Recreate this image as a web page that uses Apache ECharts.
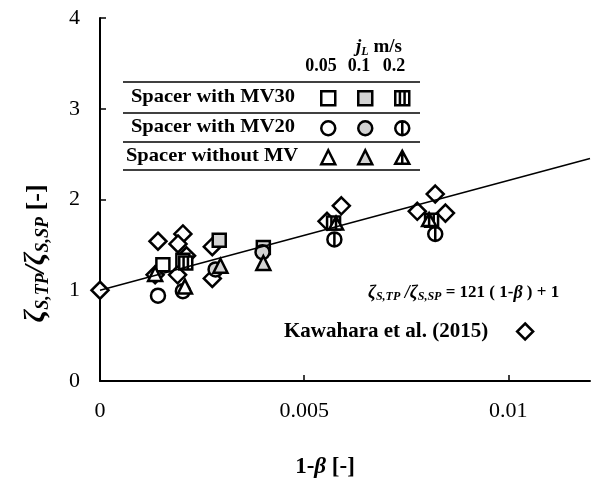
<!DOCTYPE html>
<html>
<head>
<meta charset="utf-8">
<script src="https://cdn.jsdelivr.net/npm/echarts@6/dist/echarts.min.js"></script>
<style>
  html, body { margin: 0; padding: 0; background: #fff; }
  #chart { width: 592px; height: 481px; }
</style>
</head>
<body>
<div id="chart"></div>
<script>
// x = 1-beta, y = zeta_S,TP / zeta_S,SP
const kawahara = [
  [0, 1.0], [0.00142, 1.54], [0.00203, 1.62], [0.00191, 1.51], [0.00275, 1.48],
  [0.00135, 1.17], [0.0019, 1.17], [0.00212, 1.38], [0.00275, 1.13],
  [0.00591, 1.93], [0.00556, 1.76], [0.00821, 2.06], [0.00777, 1.87], [0.00846, 1.85]
];
const mv30_005 = [[0.00154, 1.28], [0.00203, 1.33]];
const mv30_01 = [[0.00292, 1.55], [0.004, 1.47]];
const mv30_02 = [[0.0021, 1.3], [0.00572, 1.74], [0.00812, 1.77]];
const mv20_005 = [[0.00142, 0.94], [0.00203, 0.99]];
const mv20_01 = [[0.00283, 1.23], [0.00398, 1.42]];
const mv20_02 = [[0.00574, 1.56], [0.00821, 1.62]];
const nomv_005 = [[0.00135, 1.18], [0.00208, 1.04]];
const nomv_01 = [[0.00295, 1.27], [0.004, 1.3]];
const nomv_02 = [[0.00578, 1.74], [0.00806, 1.78]];
// fitted correlation: y = 121 (1-beta) + 1
const fitLine = [[0, 1], [0.012, 2.452]];

const xTicks = [0, 0.005, 0.01];
const velocities = ['0.05', '0.1', '0.2'];

const SERIF = 'Liberation Serif';
const GRAY = '#d3d3d3';

const sqBars = 'path://M0 0H12V12H0Z M4 0V12 M8 0V12';
const circBar = 'path://M6 0A6 6 0 1 1 6 12A6 6 0 1 1 6 0Z M6 0V12';
const triBar = 'path://M6 0L12 11L0 11Z M6 0V11';

function sc(name, data, symbol, size, fill) {
  return {
    name: name,
    type: 'scatter',
    data: data,
    symbol: symbol,
    symbolSize: size,
    symbolKeepAspect: true,
    itemStyle: { color: fill, borderColor: '#000', borderWidth: 2.5, opacity: 1 },
    z: 3
  };
}

const chart = echarts.init(document.getElementById('chart'));

function rowLegend(names, y) {
  return {
    data: names,
    top: y - 7,
    left: 320,
    orient: 'horizontal',
    itemWidth: 14,
    itemHeight: 14,
    itemGap: 20.5,
    padding: 0,
    selectedMode: false,
    formatter: function () { return ''; },
    itemStyle: { borderWidth: 2.5 }
  };
}

const rowFont = 'bold 19px "Liberation Serif"';

const option = {
  animation: false,
  grid: { left: 100, right: 2, top: 18, bottom: 100, outerBoundsMode: 'none', containLabel: false },
  xAxis: {
    type: 'value',
    min: 0, max: 0.012, interval: 0.005,
    axisLine: { lineStyle: { color: '#000', width: 2 } },
    axisTick: { inside: true, length: 6, lineStyle: { color: '#000', width: 1.5 }, customValues: xTicks },
    axisLabel: { fontFamily: SERIF, fontSize: 22, color: '#000', margin: 19, customValues: xTicks },
    splitLine: { show: false },
    name: '{b|1-}{bi|β}{b| [-]}',
    nameLocation: 'middle',
    nameGap: 75,
    nameTextStyle: {
      padding: [0, 40, 0, 0],
      rich: {
        b: { fontFamily: SERIF, fontSize: 23, fontWeight: 'bold', color: '#000' },
        bi: { fontFamily: SERIF, fontSize: 23, fontWeight: 'bold', fontStyle: 'italic', color: '#000' }
      }
    }
  },
  yAxis: {
    type: 'value',
    min: 0, max: 4, interval: 1,
    axisLine: { lineStyle: { color: '#000', width: 2 } },
    axisTick: { inside: true, length: 6, lineStyle: { color: '#000', width: 1.5 } },
    axisLabel: { fontFamily: SERIF, fontSize: 22, color: '#000', margin: 20 },
    splitLine: { show: false },
    name: '{z|ζ}{s|S,TP}{z|/ζ}{s|S,SP}{b| [-]}',
    nameLocation: 'middle',
    nameGap: 48,
    nameTextStyle: {
      padding: [0, 108, 0, 0],
      rich: {
        z: { fontFamily: SERIF, fontSize: 29, fontWeight: 'bold', fontStyle: 'italic', color: '#000', lineHeight: 30 },
        s: { fontFamily: SERIF, fontSize: 18, fontWeight: 'bold', fontStyle: 'italic', color: '#000', padding: [13, 0, 0, 0], lineHeight: 30 },
        b: { fontFamily: SERIF, fontSize: 26, fontWeight: 'bold', color: '#000', lineHeight: 30 }
      }
    }
  },
  legend: [
    rowLegend(['MV30 0.05', 'MV30 0.1', 'MV30 0.2'], 97),
    rowLegend(['MV20 0.05', 'MV20 0.1', 'MV20 0.2'], 127),
    rowLegend(['noMV 0.05', 'noMV 0.1', 'noMV 0.2'], 156),
    {
      data: ['Kawahara et al. (2015)'],
      top: 321,
      left: 284,
      align: 'right',
      itemWidth: 16,
      itemHeight: 16,
      padding: 0,
      selectedMode: false,
      itemStyle: { borderWidth: 2.5 },
      textStyle: { fontFamily: SERIF, fontSize: 21, fontWeight: 'bold', color: '#000', padding: [0, 24, 0, 0] }
    }
  ],
  graphic: [
    { type: 'line', shape: { x1: 123, y1: 82, x2: 420, y2: 82 }, style: { stroke: '#000', lineWidth: 1.5 } },
    { type: 'line', shape: { x1: 123, y1: 113, x2: 420, y2: 113 }, style: { stroke: '#000', lineWidth: 1.5 } },
    { type: 'line', shape: { x1: 123, y1: 142, x2: 420, y2: 142 }, style: { stroke: '#000', lineWidth: 1.5 } },
    { type: 'line', shape: { x1: 123, y1: 170, x2: 420, y2: 170 }, style: { stroke: '#000', lineWidth: 1.5 } },
    { type: 'text', x: 213, y: 97, scaleX: 1.08, style: { text: 'Spacer with MV30', font: rowFont, fill: '#000', align: 'center', verticalAlign: 'middle' } },
    { type: 'text', x: 213, y: 127, scaleX: 1.08, style: { text: 'Spacer with MV20', font: rowFont, fill: '#000', align: 'center', verticalAlign: 'middle' } },
    { type: 'text', x: 212, y: 156, scaleX: 1.08, style: { text: 'Spacer without MV', font: rowFont, fill: '#000', align: 'center', verticalAlign: 'middle' } },
    {
      type: 'text', x: 379, y: 47,
      style: {
        text: '{j|j}{l|L}{b| m/s}',
        align: 'center', verticalAlign: 'middle',
        rich: {
          j: { fontFamily: SERIF, fontSize: 19, fontWeight: 'bold', fontStyle: 'italic', fill: '#000', lineHeight: 22 },
          l: { fontFamily: SERIF, fontSize: 12, fontWeight: 'bold', fontStyle: 'italic', fill: '#000', padding: [10, 0, 0, 0], lineHeight: 22 },
          b: { fontFamily: SERIF, fontSize: 19, fontWeight: 'bold', fill: '#000', lineHeight: 22 }
        }
      }
    },
    { type: 'text', x: 321, y: 66, style: { text: velocities[0], font: 'bold 18px "Liberation Serif"', fill: '#000', align: 'center', verticalAlign: 'middle' } },
    { type: 'text', x: 359, y: 66, style: { text: velocities[1], font: 'bold 18px "Liberation Serif"', fill: '#000', align: 'center', verticalAlign: 'middle' } },
    { type: 'text', x: 394, y: 66, style: { text: velocities[2], font: 'bold 18px "Liberation Serif"', fill: '#000', align: 'center', verticalAlign: 'middle' } },
    {
      type: 'text', x: 368, y: 293,
      style: {
        text: '{z|ζ}{s|S,TP}{z| /ζ}{s|S,SP}{b| = 121 ( 1-}{z|β}{b| ) + 1}',
        align: 'left', verticalAlign: 'middle',
        rich: {
          z: { fontFamily: SERIF, fontSize: 18, fontWeight: 'bold', fontStyle: 'italic', fill: '#000', lineHeight: 18 },
          s: { fontFamily: SERIF, fontSize: 12, fontWeight: 'bold', fontStyle: 'italic', fill: '#000', padding: [7, 0, 0, 0], lineHeight: 18 },
          b: { fontFamily: SERIF, fontSize: 17, fontWeight: 'bold', fill: '#000', lineHeight: 18 }
        }
      }
    }
  ],
  series: [
    Object.assign(sc('Kawahara et al. (2015)', kawahara, 'diamond', 17, '#fff'), { z: 2 }),
    sc('MV30 0.05', mv30_005, 'rect', 13, '#fff'),
    sc('MV30 0.1', mv30_01, 'rect', 13, GRAY),
    sc('MV30 0.2', mv30_02, sqBars, 13, '#fff'),
    sc('MV20 0.05', mv20_005, 'circle', 14, '#fff'),
    sc('MV20 0.1', mv20_01, 'circle', 14, GRAY),
    sc('MV20 0.2', mv20_02, circBar, 14, '#fff'),
    sc('noMV 0.05', nomv_005, 'triangle', 14, '#fff'),
    sc('noMV 0.1', nomv_01, 'triangle', 14, GRAY),
    sc('noMV 0.2', nomv_02, triBar, 14, '#fff'),
    {
      name: 'fit',
      type: 'line',
      data: fitLine,
      showSymbol: false,
      symbol: 'none',
      lineStyle: { color: '#000', width: 1.5 },
      z: 4
    }
  ]
};

chart.setOption(option);
</script>
</body>
</html>
